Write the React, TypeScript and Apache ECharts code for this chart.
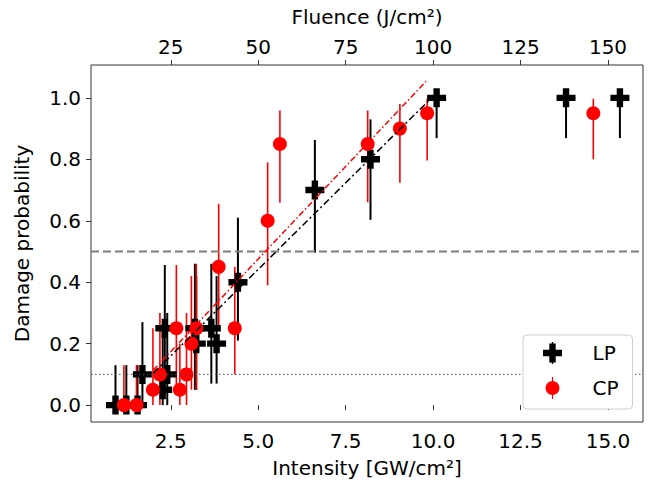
import React, { useEffect, useRef } from "react";
import * as echarts from "echarts";

// ---- tick labels ----
const intensityTicks = [2.5, 5.0, 7.5, 10.0, 12.5, 15.0];
const fluenceTicks = [25, 50, 75, 100, 125, 150];
const probTicks = [0.0, 0.2, 0.4, 0.6, 0.8, 1.0];

// ---- LP (linear polarisation) ----
const lpIntensity = [0.92, 1.23, 1.55, 1.69, 2.27, 2.33, 2.4, 3.19, 3.23, 3.66, 3.81, 4.42, 6.62, 8.21, 10.1, 13.8, 15.34];
const lpProb = [0.0, 0.0, 0.0, 0.1, 0.05, 0.25, 0.1, 0.25, 0.2, 0.25, 0.2, 0.4, 0.7, 0.8, 1.0, 1.0, 1.0];
const lpLow = [0.0, 0.0, 0.0, 0.0, 0.0, 0.05, 0.0, 0.05, 0.05, 0.07, 0.07, 0.21, 0.496, 0.603, 0.869, 0.869, 0.869];
const lpHigh = [0.13, 0.13, 0.13, 0.27, 0.25, 0.456, 0.3, 0.46, 0.42, 0.46, 0.42, 0.61, 0.863, 0.93, 1.0, 1.0, 1.0];

// ---- CP (circular polarisation) ----
const cpIntensity = [1.16, 1.52, 1.99, 2.19, 2.66, 2.76, 2.95, 3.09, 3.23, 3.87, 4.33, 5.27, 5.62, 8.13, 9.05, 9.83, 14.58];
const cpProb = [0.0, 0.0, 0.05, 0.1, 0.25, 0.05, 0.1, 0.2, 0.25, 0.45, 0.25, 0.6, 0.85, 0.85, 0.9, 0.95, 0.95];
const cpLow = [0.0, 0.0, 0.0, 0.0, 0.05, 0.0, 0.0, 0.05, 0.05, 0.245, 0.1, 0.39, 0.659, 0.66, 0.724, 0.796, 0.8];
const cpHigh = [0.13, 0.13, 0.25, 0.3, 0.456, 0.2, 0.3, 0.42, 0.46, 0.655, 0.45, 0.79, 0.959, 0.959, 0.98, 0.997, 0.997];

// ---- linear fits ----
const lpFitX = [2.0, 10.0];
const lpFitY = [0.104, 1.005];
const cpFitX = [2.0, 9.8];
const cpFitY = [0.114, 1.054];

// ---- reference levels ----
const halfLevel = 0.5;
const tenthLevel = 0.1;

const X_MIN = 0.22;
const X_MAX = 16.0;
const Y_MIN = -0.055;
const Y_MAX = 1.107;
const FLUENCE_PER_INTENSITY = 10;

const FONT = "DejaVu Sans";
const FS = 20;
const PLUS = "path://M-3.2,-9.5H3.2V-3.2H9.5V3.2H3.2V9.5H-3.2V3.2H-9.5V-3.2H-3.2Z";
const LP_ICON = "path://M-3.2,-9.5H3.2V-3.2H9.5V3.2H3.2V9.5H-3.2V3.2H-9.5V-3.2H-3.2Z M-0.7,-11H0.7V11H-0.7Z";
const CP_ICON = "path://M7,0A7,7 0 1 1 -7,0A7,7 0 1 1 7,0Z M-0.6,-11H0.6V11H-0.6Z";

function zip2(a: number[], b: number[]) {
  return a.map((v, i) => [v, b[i]]);
}
function zip3(a: number[], b: number[], c: number[]) {
  return a.map((v, i) => [v, b[i], c[i]]);
}

function errorBarSeries(name: string, data: number[][], color: string, width: number) {
  return {
    type: "custom",
    name,
    xAxisIndex: 0,
    yAxisIndex: 0,
    encode: { x: 0, y: [1, 2] },
    data,
    silent: true,
    renderItem: (_params: any, api: any) => {
      const p1 = api.coord([api.value(0), api.value(1)]);
      const p2 = api.coord([api.value(0), api.value(2)]);
      return {
        type: "line",
        shape: { x1: p1[0], y1: p1[1], x2: p2[0], y2: p2[1] },
        style: { stroke: color, lineWidth: width },
      };
    },
  };
}

export default function App() {
  const ref = useRef<HTMLDivElement>(null);

  useEffect(() => {
    if (!ref.current) return;
    const chart = echarts.init(ref.current, null, { renderer: "svg" });
    const axisColor = "#333";
    const labelColor = "#000";

    chart.setOption({
      animation: false,
      backgroundColor: "#fff",
      textStyle: { fontFamily: FONT },
      grid: {
        left: 91,
        right: 6,
        top: 65,
        bottom: 69,
        show: true,
        borderColor: axisColor,
        borderWidth: 1,
        backgroundColor: "transparent",
      },
      xAxis: [
        {
          type: "value",
          position: "bottom",
          min: X_MIN,
          max: X_MAX,
          name: "Intensity [GW/cm²]",
          nameLocation: "middle",
          nameGap: 36,
          nameTextStyle: { fontSize: FS, color: labelColor, fontFamily: FONT },
          axisLine: { show: false },
          axisTick: { show: true, length: 5, customValues: intensityTicks, lineStyle: { color: axisColor } },
          axisLabel: {
            customValues: intensityTicks,
            fontSize: FS,
            color: labelColor,
            fontFamily: FONT,
            margin: 9,
            formatter: (v: number) => v.toFixed(1),
          },
          splitLine: { show: false },
        },
        {
          type: "value",
          position: "top",
          min: X_MIN * FLUENCE_PER_INTENSITY,
          max: X_MAX * FLUENCE_PER_INTENSITY,
          name: "Fluence (J/cm²)",
          nameLocation: "middle",
          nameGap: 38,
          nameTextStyle: { fontSize: FS, color: labelColor, fontFamily: FONT },
          axisLine: { show: false },
          axisTick: { show: true, length: 5, customValues: fluenceTicks, lineStyle: { color: axisColor } },
          axisLabel: {
            customValues: fluenceTicks,
            fontSize: FS,
            color: labelColor,
            fontFamily: FONT,
            margin: 8,
            formatter: (v: number) => String(Math.round(v)),
          },
          splitLine: { show: false },
        },
      ],
      yAxis: [
        {
          type: "value",
          min: Y_MIN,
          max: Y_MAX,
          name: "Damage probability",
          nameLocation: "middle",
          nameGap: 59,
          nameRotate: 90,
          nameTextStyle: { fontSize: FS, color: labelColor, fontFamily: FONT },
          axisLine: { show: false },
          axisTick: { show: true, length: 5, customValues: probTicks, lineStyle: { color: axisColor } },
          axisLabel: {
            customValues: probTicks,
            fontSize: FS,
            color: labelColor,
            fontFamily: FONT,
            margin: 10,
            formatter: (v: number) => v.toFixed(1),
          },
          splitLine: { show: false },
        },
      ],
      legend: {
        orient: "vertical",
        left: 523,
        top: 335,
        padding: [7, 14, 10, 20],
        itemWidth: 20,
        itemHeight: 22,
        itemGap: 13,
        backgroundColor: "#fff",
        borderColor: "#d0d0d0",
        borderWidth: 1,
        borderRadius: 4,
        textStyle: { fontSize: FS, color: "#000", fontFamily: FONT, padding: [0, 0, 0, 25] },
        data: [
          { name: "LP", icon: LP_ICON, itemStyle: { color: "#000" } },
          { name: "CP", icon: CP_ICON, itemStyle: { color: "#ff0000" } },
        ],
      },
      series: [
        {
          type: "line",
          name: "half",
          data: [[X_MIN, halfLevel], [X_MAX, halfLevel]],
          showSymbol: false,
          silent: true,
          lineStyle: { color: "#7f7f7f", width: 2, type: [8, 4] },
        },
        {
          type: "line",
          name: "tenth",
          data: [[X_MIN, tenthLevel], [X_MAX, tenthLevel]],
          showSymbol: false,
          silent: true,
          lineStyle: { color: "#555", width: 1, type: [1.5, 2.5] },
        },
        errorBarSeries("LPerr", zip3(lpIntensity, lpLow, lpHigh), "#000", 2),
        {
          type: "scatter",
          name: "LP",
          data: zip2(lpIntensity, lpProb),
          symbol: PLUS,
          symbolSize: 19,
          itemStyle: { color: "#000", opacity: 1 },
        },
        errorBarSeries("CPerr", zip3(cpIntensity, cpLow, cpHigh), "#ff0000", 1.6),
        {
          type: "scatter",
          name: "CP",
          data: zip2(cpIntensity, cpProb),
          symbol: "circle",
          symbolSize: 14,
          itemStyle: { color: "#ff0000", opacity: 1 },
        },
        {
          type: "line",
          name: "LPfit",
          data: zip2(lpFitX, lpFitY),
          showSymbol: false,
          silent: true,
          lineStyle: { color: "#000", width: 1.5, type: [7, 3, 2, 3] },
        },
        {
          type: "line",
          name: "CPfit",
          data: zip2(cpFitX, cpFitY),
          showSymbol: false,
          silent: true,
          lineStyle: { color: "#ff0000", width: 1.5, type: [6, 2.5, 1.5, 2.5] },
        },
      ],
    });

    return () => chart.dispose();
  }, []);

  return (
    <div
      ref={ref}
      style={{ position: "absolute", left: 0, top: 0, width: 649, height: 491 }}
    />
  );
}
